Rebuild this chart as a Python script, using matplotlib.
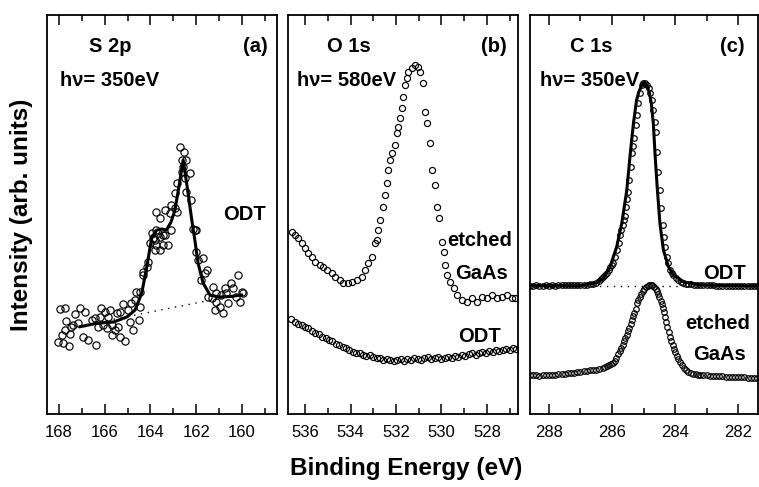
import matplotlib.pyplot as plt
from matplotlib.ticker import MultipleLocator

plt.rcParams['font.family'] = ['Liberation Sans', 'DejaVu Sans']

# (a) S 2p, hv = 350 eV : raw points
s2p_e = [167.96, 167.74, 167.08, 166.86, 167.30, 167.67, 167.37, 167.16, 167.45, 167.74,
         167.52, 167.88, 168.03, 167.81, 167.55, 166.94, 166.72, 166.36, 166.57, 166.43,
         166.14, 165.77, 165.99, 166.21, 166.28, 166.06, 165.85, 165.70, 165.92, 165.70,
         165.41, 165.55, 165.34, 165.12, 165.48, 165.19, 165.34, 164.97, 164.90, 164.75,
         164.83, 164.68, 164.61, 164.46, 164.49, 164.46, 164.32, 164.17, 164.10, 164.32,
         164.01, 163.88, 163.81, 163.59, 163.74, 163.44, 163.23, 163.66, 163.44, 162.06,
         161.99, 161.92, 161.70, 161.55, 161.77, 161.62, 161.48, 161.33, 161.26, 161.19,
         161.12, 160.97, 160.82, 160.90, 160.75, 160.68, 160.46, 160.39, 160.24, 160.17,
         160.10, 160.02, 159.95, 160.61, 161.12, 162.72, 162.54, 162.64, 162.43, 162.57,
         162.28, 162.64, 162.50, 162.86, 162.94, 162.43, 162.21, 163.08, 162.94, 163.74,
         163.59, 163.37, 162.86, 163.15, 163.95, 163.74, 163.81, 163.59, 163.37, 163.08,
         161.99, 162.13]
s2p_i = [104.7, 106.3, 106.3, 102.3, 100.0, 93.3, 89.0, 90.7, 87.3, 84.0,
         80.0, 79.0, 72.3, 71.3, 68.0, 76.7, 74.0, 69.0, 94.0, 95.7,
         105.7, 104.0, 102.3, 96.7, 87.3, 89.0, 96.7, 89.0, 85.7, 79.0,
         87.3, 84.0, 76.7, 73.0, 100.7, 110.0, 101.7, 104.0, 92.3, 84.0,
         110.7, 114.0, 122.3, 122.3, 94.0, 107.3, 139.0, 147.3, 152.3, 142.3,
         170.7, 175.7, 164.0, 164.0, 169.0, 169.0, 169.0, 180.7, 179.0, 184.0,
         162.3, 154.0, 155.7, 144.0, 134.0, 140.7, 117.3, 115.7, 127.3, 104.0,
         112.3, 107.3, 100.7, 119.0, 125.7, 120.7, 130.7, 125.7, 117.3, 139.0,
         112.3, 122.3, 120.7, 110.7, 120.7, 267.3, 262.3, 254.0, 254.0, 247.3,
         240.7, 242.3, 235.7, 230.7, 220.7, 222.3, 214.0, 209.0, 205.7, 202.3,
         195.7, 204.0, 202.3, 200.7, 180.7, 184.0, 174.0, 177.3, 179.0, 184.0,
         184.0, 184.7]
s2p_fit_e = [167.07, 166.34, 165.61, 165.03, 164.67, 164.38, 164.16, 163.94, 163.72, 163.5,
             163.3, 163.1, 162.93, 162.75, 162.57, 162.4, 162.2, 162.06, 161.92, 161.7,
             161.4, 161.0, 160.5, 160.02]
s2p_fit_i = [87.3, 90.7, 92.0, 97.0, 104.0, 121.0, 147.0, 177.0, 184.0, 185.0,
             184.0, 192.0, 204.0, 228.0, 254.0, 228.0, 195.0, 174.0, 151.0, 131.0,
             119.0, 117.0, 117.5, 119.0]
s2p_bg_e = [167.1, 160.0]
s2p_bg_i = [88.0, 120.0]

# (b) O 1s, hv = 580 eV
o1s_etch_e = [536.59, 536.44, 536.29, 536.15, 536.00, 535.85, 535.71, 535.56, 535.34, 535.19,
              535.04, 534.82, 534.68, 534.46, 534.31, 534.09, 533.94, 533.72, 533.50, 533.36,
              533.21, 533.06, 532.92, 532.84, 532.77, 532.70, 532.55, 532.47, 532.40, 532.33,
              532.25, 532.18, 532.03, 531.96, 531.89, 531.81, 531.74, 531.67, 531.59, 531.52,
              531.45, 531.30, 531.15, 531.01, 530.93, 530.79, 530.71, 530.64, 530.49, 530.42,
              530.27, 530.20, 530.12, 529.98, 529.90, 529.83, 529.76, 529.61, 529.46, 529.32,
              529.10, 528.88, 528.66, 528.44, 528.22, 528.00, 527.78, 527.56, 527.34, 527.11,
              526.89, 526.75]
o1s_etch_i = [182.3, 179.0, 175.7, 170.7, 165.7, 160.7, 157.3, 152.3, 149.0, 147.3,
              144.0, 140.7, 137.3, 134.0, 130.7, 130.7, 132.3, 134.0, 137.3, 144.0,
              150.7, 157.3, 170.7, 174.0, 184.0, 194.0, 207.3, 219.0, 230.7, 244.0,
              254.0, 260.7, 269.0, 280.7, 287.3, 295.7, 305.7, 317.3, 329.0, 335.7,
              342.3, 345.7, 349.0, 347.3, 342.3, 330.7, 302.3, 290.7, 270.7, 244.0,
              229.0, 207.3, 195.7, 172.3, 162.3, 149.0, 139.0, 132.3, 125.7, 119.0,
              114.0, 112.3, 115.7, 112.3, 117.3, 115.7, 119.0, 115.7, 117.3, 119.0,
              115.7, 115.7]
o1s_odt_e = [536.6, 536.45, 536.3, 536.15, 536.0, 535.85, 535.7, 535.55, 535.4, 535.25,
             535.1, 534.95, 534.8, 534.65, 534.5, 534.35, 534.2, 534.05, 533.9, 533.75,
             533.6, 533.45, 533.3, 533.15, 533.0, 532.85, 532.7, 532.55, 532.4, 532.25,
             532.1, 531.95, 531.8, 531.65, 531.5, 531.35, 531.2, 531.05, 530.9, 530.75,
             530.6, 530.45, 530.3, 530.15, 530.0, 529.85, 529.7, 529.55, 529.4, 529.25,
             529.1, 528.95, 528.8, 528.65, 528.5, 528.35, 528.2, 528.05, 527.9, 527.75,
             527.6, 527.45, 527.3, 527.15, 527.0, 526.85, 526.7]
o1s_odt_i = [95, 92, 90, 89, 87, 86, 83, 81, 80, 77,
             76, 74, 73, 70, 69, 67, 66, 64, 62, 61,
             61, 59, 58, 59, 57, 56, 56, 54, 55, 54,
             53, 54, 55, 53, 55, 54, 56, 55, 54, 56,
             57, 55, 56, 57, 55, 56, 57, 56, 58, 57,
             59, 58, 60, 61, 59, 61, 62, 61, 63, 62,
             64, 63, 64, 65, 64, 66, 65]

# (c) C 1s, hv = 350 eV
c1s_odt_e = [288.6, 288.5, 288.4, 288.3, 288.2, 288.1, 288.0, 287.9, 287.8, 287.7,
             287.6, 287.5, 287.4, 287.3, 287.2, 287.1, 287.0, 286.9, 286.8, 286.7,
             286.6, 286.5, 286.42, 286.35, 286.28, 286.22, 286.17, 286.11, 286.06, 286.01,
             285.96, 285.9, 285.83, 285.79, 285.75, 285.7, 285.66, 285.62, 285.59, 285.56,
             285.52, 285.48, 285.45, 285.41, 285.37, 285.33, 285.29, 285.24, 285.2, 285.16,
             285.11, 285.06, 285.01, 284.95, 284.9, 284.84, 284.79, 284.74, 284.69, 284.64,
             284.6, 284.57, 284.53, 284.48, 284.44, 284.39, 284.35, 284.32, 284.26, 284.21,
             284.16, 284.1, 284.05, 283.98, 283.9, 283.82, 283.74, 283.66, 283.6, 283.5,
             283.4, 283.3, 283.2, 283.1, 283.0, 282.9, 282.8, 282.7, 282.6, 282.5,
             282.4, 282.3, 282.2, 282.1, 282.0, 281.9, 281.8, 281.7, 281.6, 281.5,
             281.4]
c1s_odt_i = [128.5, 128.3, 128.6, 128.4, 128.5, 128.7, 128.4, 128.6, 128.5, 128.8,
             128.6, 128.7, 128.9, 128.7, 129.0, 128.8, 129.1, 129.3, 129.5, 129.8,
             130.2, 131.0, 133.0, 135.0, 137.5, 139.5, 141.0, 144.0, 147.0, 149.0,
             151.0, 157.0, 164.0, 171.0, 179.0, 184.0, 189.0, 194.0, 198.0, 207.0,
             215.0, 222.0, 234.0, 247.0, 261.0, 268.0, 276.0, 289.0, 299.0, 311.0,
             321.0, 329.0, 331.0, 331.0, 329.0, 326.0, 321.0, 314.0, 304.0, 292.0,
             282.0, 262.0, 242.0, 224.0, 206.0, 189.0, 177.0, 167.0, 157.0, 151.0,
             144.0, 141.0, 139.0, 136.0, 134.0, 132.0, 131.0, 130.5, 130.0, 129.7,
             129.4, 129.2, 129.0, 128.9, 128.8, 128.7, 128.6, 128.5, 128.5, 128.4,
             128.3, 128.3, 128.2, 128.2, 128.1, 128.0, 128.0, 127.9, 127.9, 127.8,
             127.8]
c1s_fit_e = [288.6, 287.0, 286.49, 286.28, 286.06, 285.85, 285.69, 285.53, 285.43, 285.32,
             285.22, 285.15, 285.05, 284.98, 284.9, 284.82, 284.75, 284.69, 284.63, 284.56,
             284.48, 284.37, 284.21, 284.05, 283.74, 283.21, 281.4]
c1s_fit_i = [128.3, 128.3, 131.3, 135.7, 147.3, 167.3, 190.7, 224.0, 257.3, 290.7,
             314.0, 322.0, 329.0, 331.0, 329.0, 322.0, 310.0, 290.7, 257.3, 224.0,
             190.7, 164.0, 147.3, 139.0, 132.3, 129.0, 128.0]
c1s_bg_e = [288.6, 281.4]
c1s_bg_i = [128.0, 128.0]
c1s_etch_e = [288.6, 288.5, 288.4, 288.3, 288.2, 288.1, 288.0, 287.9, 287.8, 287.7,
              287.6, 287.5, 287.4, 287.3, 287.2, 287.1, 287.0, 286.9, 286.8, 286.7,
              286.6, 286.5, 286.4, 286.3, 286.22, 286.15, 286.08, 286.02, 285.96, 285.91,
              285.86, 285.81, 285.76, 285.71, 285.66, 285.62, 285.58, 285.53, 285.49, 285.45,
              285.41, 285.37, 285.33, 285.29, 285.25, 285.2, 285.16, 285.11, 285.07, 285.02,
              284.97, 284.92, 284.87, 284.82, 284.77, 284.72, 284.67, 284.62, 284.58, 284.54,
              284.5, 284.46, 284.42, 284.39, 284.35, 284.32, 284.28, 284.24, 284.2, 284.16,
              284.12, 284.08, 284.04, 284.0, 283.95, 283.9, 283.85, 283.79, 283.73, 283.66,
              283.58, 283.5, 283.42, 283.34, 283.26, 283.2, 283.1, 283.0, 282.9, 282.8,
              282.7, 282.6, 282.5, 282.4, 282.3, 282.2, 282.1, 282.0, 281.9, 281.8,
              281.7, 281.6, 281.5, 281.4]
c1s_etch_i = [39.0, 38.8, 38.6, 38.5, 38.6, 38.7, 38.9, 39.0, 39.3, 39.6,
              40.0, 40.4, 40.7, 41.1, 41.5, 41.9, 42.3, 42.7, 43.1, 43.6,
              44.0, 44.3, 45.0, 46.0, 47.0, 47.8, 48.7, 49.8, 50.7, 53.5,
              56.5, 60.0, 63.0, 66.5, 69.5, 73.0, 76.0, 79.0, 83.0, 86.0,
              90.0, 94.0, 98.0, 101.0, 105.0, 110.7, 114.0, 117.3, 120.0, 123.0,
              125.5, 127.0, 128.0, 128.8, 129.2, 128.8, 127.5, 125.5, 123.5, 120.5,
              117.5, 113.5, 110.0, 106.5, 102.0, 97.5, 92.5, 87.5, 82.5, 77.5,
              73.0, 69.0, 65.5, 62.0, 58.0, 55.0, 52.0, 49.0, 46.5, 44.5,
              42.5, 41.2, 40.3, 39.7, 39.3, 39.0, 38.8, 38.6, 38.4, 38.2,
              38.0, 37.8, 37.7, 37.5, 37.4, 37.3, 37.1, 37.0, 36.8, 36.6,
              36.4, 36.2, 36.0, 35.8]

fig = plt.figure(figsize=(7.59, 4.87), dpi=100)
W, H = 759.0, 487.0
ax_a = fig.add_axes([47 / W, 73 / H, 230 / W, 399 / H])
ax_b = fig.add_axes([288 / W, 73 / H, 230 / W, 399 / H])
ax_c = fig.add_axes([530 / W, 73 / H, 228 / W, 399 / H])

circ = dict(ls='none', marker='o', mfc='none', mec='black')

ax_a.plot(s2p_bg_e, s2p_bg_i, ls=(0, (1, 4)), color='black', lw=1)
ax_a.plot(s2p_e, s2p_i, ms=5.2, mew=0.85, **circ)
ax_a.plot(s2p_fit_e, s2p_fit_i, color='black', lw=2.2)
ax_a.set_xlim(168.52, 158.47)

ax_b.plot(o1s_etch_e, o1s_etch_i, ms=4.4, mew=0.85, **circ)
ax_b.plot(o1s_odt_e, o1s_odt_i, ms=4.4, mew=0.85, **circ)
ax_b.set_xlim(536.75, 526.63)

ax_c.plot(c1s_bg_e, c1s_bg_i, ls=(0, (1, 4)), color='black', lw=1)
ax_c.plot(c1s_odt_e, c1s_odt_i, ms=4, mew=0.85, **circ)
ax_c.plot(c1s_etch_e, c1s_etch_i, ms=4, mew=0.85, **circ)
ax_c.plot(c1s_fit_e, c1s_fit_i, color='black', lw=2.2)
ax_c.set_xlim(288.6, 281.37)

for ax in (ax_a, ax_b, ax_c):
    ax.set_ylim(0, 399)
    ax.xaxis.set_major_locator(MultipleLocator(2))
    ax.xaxis.set_minor_locator(MultipleLocator(1))
    ax.tick_params(which='both', direction='in', top=True, bottom=True,
                   left=False, labelleft=False, width=1.1, labelsize=12, pad=8)
    ax.tick_params(which='major', length=7)
    ax.tick_params(which='minor', length=4)
    for sp in ax.spines.values():
        sp.set_linewidth(1.3)

bold = dict(fontsize=14.5, fontweight='bold')
ax_a.text(0.183, 0.92, 'S 2p', transform=ax_a.transAxes, va='center', **bold)
ax_a.text(0.961, 0.92, '(a)', transform=ax_a.transAxes, va='center', ha='right', **bold)
ax_a.text(0.057, 0.837, 'hν= 350eV', transform=ax_a.transAxes, va='center', **bold)
ax_a.text(0.765, 0.499, 'ODT', transform=ax_a.transAxes, va='center', **bold)

ax_b.text(0.17, 0.922, 'O 1s', transform=ax_b.transAxes, va='center', **bold)
ax_b.text(0.952, 0.922, '(b)', transform=ax_b.transAxes, va='center', ha='right', **bold)
ax_b.text(0.039, 0.837, 'hν= 580eV', transform=ax_b.transAxes, va='center', **bold)
ax_b.text(0.691, 0.436, 'etched', transform=ax_b.transAxes, va='center', **bold)
ax_b.text(0.726, 0.353, 'GaAs', transform=ax_b.transAxes, va='center', **bold)
ax_b.text(0.739, 0.193, 'ODT', transform=ax_b.transAxes, va='center', **bold)

ax_c.text(0.175, 0.922, 'C 1s', transform=ax_c.transAxes, va='center', **bold)
ax_c.text(0.943, 0.922, '(c)', transform=ax_c.transAxes, va='center', ha='right', **bold)
ax_c.text(0.044, 0.837, 'hν= 350eV', transform=ax_c.transAxes, va='center', **bold)
ax_c.text(0.759, 0.353, 'ODT', transform=ax_c.transAxes, va='center', **bold)
ax_c.text(0.68, 0.228, 'etched', transform=ax_c.transAxes, va='center', **bold)
ax_c.text(0.715, 0.148, 'GaAs', transform=ax_c.transAxes, va='center', **bold)

fig.text(22 / W, 1 - 215 / H, 'Intensity (arb. units)', rotation=90,
         ha='center', va='center', fontsize=17.5, fontweight='bold')
fig.text(406 / W, 1 - 469 / H, 'Binding Energy (eV)',
         ha='center', va='center', fontsize=17.5, fontweight='bold')

fig.savefig('out.png', dpi=100)
